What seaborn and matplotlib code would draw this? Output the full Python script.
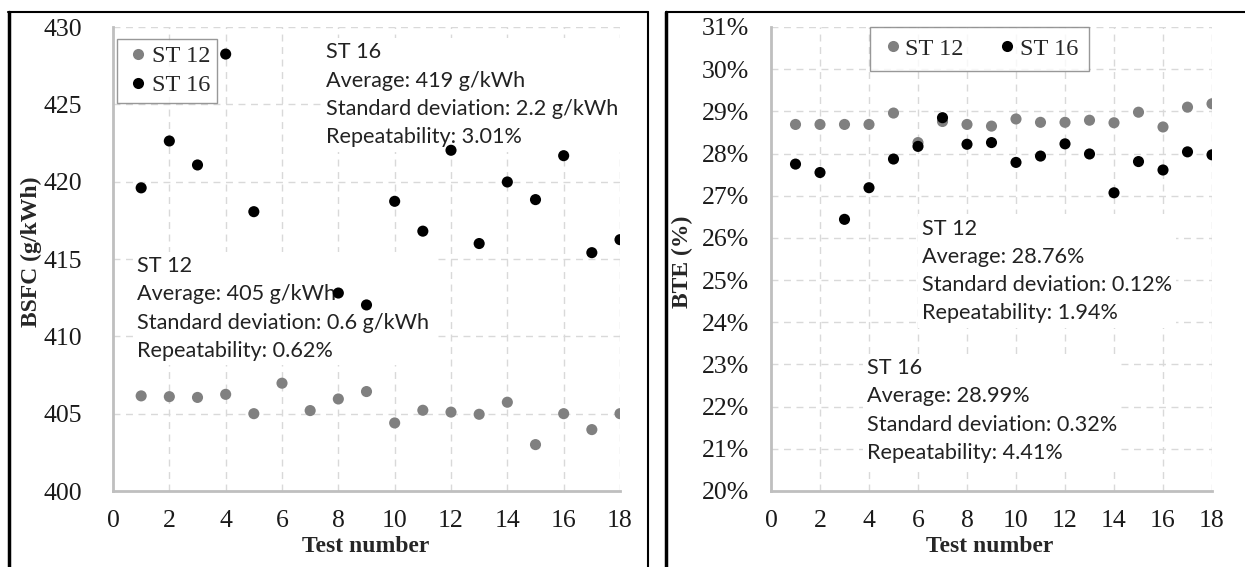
import numpy as np
import pandas as pd
import matplotlib
matplotlib.use("Agg")
import matplotlib.pyplot as plt
import seaborn as sns
from matplotlib.lines import Line2D
from matplotlib.ticker import PercentFormatter

# ---------------- data ----------------
tests = list(range(1, 19))
bsfc_st12 = [406.15, 406.1, 406.05, 406.25, 405.0, 406.97, 405.2, 405.95, 406.43,
             404.4, 405.22, 405.1, 404.96, 405.74, 403.0, 405.0, 403.97, 405.0]
bsfc_st16 = [419.6, 422.63, 421.08, 428.25, 418.06, None, None, 412.8, 412.03,
             418.73, 416.8, 422.03, 416.0, 419.98, 418.84, 421.68, 415.41, 416.25]
bte_st12 = [28.69, 28.69, 28.69, 28.69, 28.96, 28.26, 28.76, 28.69, 28.65,
            28.82, 28.74, 28.74, 28.79, 28.73, 28.98, 28.63, 29.10, 29.18]
bte_st16 = [27.75, 27.55, 26.44, 27.19, 27.87, 28.17, 28.85, 28.22, 28.26,
            27.79, 27.94, 28.23, 27.99, 27.07, 27.81, 27.61, 28.04, 27.97]
series = ["ST 12", "ST 16"]
colors = {"ST 12": "#808080", "ST 16": "#000000"}

left_note_st16 = ["ST 16", "Average: 419 g/kWh", "Standard deviation: 2.2 g/kWh", "Repeatability: 3.01%"]
left_note_st12 = ["ST 12", "Average: 405 g/kWh", "Standard deviation: 0.6 g/kWh", "Repeatability: 0.62%"]
right_note_st12 = ["ST 12", "Average: 28.76%", "Standard deviation: 0.12%", "Repeatability: 1.94%"]
right_note_st16 = ["ST 16", "Average: 28.99%", "Standard deviation: 0.32%", "Repeatability: 4.41%"]

df_l = pd.DataFrame({
    "Test": tests * 2,
    "Value": bsfc_st12 + bsfc_st16,
    "Series": [series[0]] * 18 + [series[1]] * 18,
}).dropna()
df_r = pd.DataFrame({
    "Test": tests * 2,
    "Value": [v / 100 for v in bte_st12] + [v / 100 for v in bte_st16],
    "Series": [series[0]] * 18 + [series[1]] * 18,
})

# ---------------- style ----------------
sns.set_style("white")
SERIF = ["Liberation Serif", "DejaVu Serif"]
plt.rcParams["font.family"] = SERIF

W, H = 1245, 567
fig = plt.figure(figsize=(W / 100, H / 100), dpi=100)

def fx(px):
    return px / W

def fy(py):
    return 1 - py / H

ax_l = fig.add_axes([fx(113), fy(491), fx(620) - fx(113), fy(27) - fy(491)])
ax_r = fig.add_axes([fx(771), fy(491), fx(1212) - fx(771), fy(27) - fy(491)])

note_font = ["Lato", "DejaVu Sans"]

def style_axis(ax):
    ax.set_axisbelow(True)
    ax.grid(True, linestyle=(0, (5, 4)), color="#d9d9d9", linewidth=1)
    for s in ["top", "right"]:
        ax.spines[s].set_visible(False)
    for s in ["left", "bottom"]:
        ax.spines[s].set_color("#bfbfbf")
        ax.spines[s].set_linewidth(2)
    ax.tick_params(axis="both", length=0, labelsize=18.5, labelcolor="#1a1a1a")
    ax.set_xlim(0, 18)
    ax.set_xticks(range(0, 19, 2))

def fix_tick_fonts(ax):
    for t in ax.get_xticklabels() + ax.get_yticklabels():
        t.set_family(SERIF)
        t.set_fontsize(18.5)

def add_note(ax, x, y, lines):
    ax.text(x, y, "\n".join(lines), ha="left", va="top", fontsize=15.6,
            family=note_font, color="#222222", linespacing=1.52, zorder=2,
            bbox=dict(facecolor="white", edgecolor="none", pad=3))

legend_prop = {"family": SERIF, "size": 17.5}

# -------- left: BSFC --------
style_axis(ax_l)
add_note(ax_l, 7.56, 429.0, left_note_st16)
add_note(ax_l, 0.85, 415.2, left_note_st12)
sns.scatterplot(data=df_l, x="Test", y="Value", hue="Series", palette=colors,
                hue_order=series, s=64, linewidth=0, ax=ax_l, zorder=3)
ax_l.set_ylim(400, 430)
ax_l.set_yticks(range(400, 431, 5))
ax_l.tick_params(axis="y", pad=22)
ax_l.tick_params(axis="x", pad=14)
ax_l.set_xlabel("")
ax_l.set_ylabel("")
fix_tick_fonts(ax_l)
h, lab = ax_l.get_legend_handles_labels()
ax_l.legend(h, lab, loc="upper left", bbox_to_anchor=(0.008, 0.974), ncol=1,
            frameon=True, fancybox=False, edgecolor="#7f7f7f", prop=legend_prop,
            markerscale=1.0, handletextpad=0.0, borderpad=0.25, labelspacing=0.3,
            handlelength=1.2, borderaxespad=0)
fig.text(fx(366), fy(546), "Test number", ha="center", va="center",
         fontsize=17, fontweight="bold", family=SERIF)
fig.text(fx(31), fy(252), "BSFC (g/kWh)", ha="center", va="center",
         fontsize=17, fontweight="bold", rotation=90, family=SERIF)

# -------- right: BTE --------
style_axis(ax_r)
add_note(ax_r, 6.16, 0.2646, right_note_st12)
add_note(ax_r, 3.92, 0.2315, right_note_st16)
sns.scatterplot(data=df_r, x="Test", y="Value", hue="Series", palette=colors,
                hue_order=series, s=64, linewidth=0, ax=ax_r, zorder=3)
ax_r.set_ylim(0.20, 0.31)
ax_r.set_yticks(np.arange(20, 32) / 100)
ax_r.yaxis.set_major_formatter(PercentFormatter(1.0, decimals=0))
ax_r.tick_params(axis="y", pad=16)
ax_r.tick_params(axis="x", pad=14)
ax_r.set_xlabel("")
ax_r.set_ylabel("")
fix_tick_fonts(ax_r)
h, lab = ax_r.get_legend_handles_labels()
ax_r.legend(h, lab, loc="upper left", bbox_to_anchor=(0.2245, 1.0), ncol=2,
            frameon=True, fancybox=False, edgecolor="#7f7f7f", prop=legend_prop,
            markerscale=1.0, handletextpad=0.0, borderpad=0.45, columnspacing=1.3,
            handlelength=1.0, borderaxespad=0)
fig.text(fx(990), fy(546), "Test number", ha="center", va="center",
         fontsize=17, fontweight="bold", family=SERIF)
fig.text(fx(682), fy(262), "BTE (%)", ha="center", va="center",
         fontsize=17, fontweight="bold", rotation=90, family=SERIF)

# -------- panel frames --------
frame_lines = [
    ([9, 9], [12, 600], 2.5),
    ([8, 648], [12, 12], 1.5),
    ([648, 648], [12, 600], 1.5),
    ([666, 666], [12, 600], 2.5),
    ([666, 1260], [12, 12], 1.5),
]
for xs, ys, lw in frame_lines:
    fig.add_artist(Line2D([fx(x) for x in xs], [fy(y) for y in ys],
                          color="black", linewidth=lw))

fig.savefig("out.png", dpi=100)
